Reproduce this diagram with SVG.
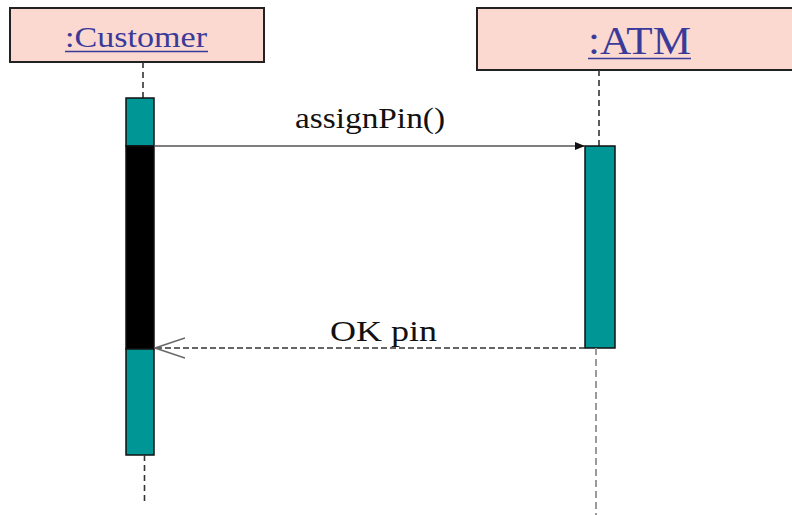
<svg xmlns="http://www.w3.org/2000/svg" width="792" height="515" viewBox="0 0 792 515">
  <style>
    .obj { fill: #fbd9d0; stroke: #222; stroke-width: 2; }
    .objname { font-family: "Liberation Serif", "Times New Roman", serif; fill: #3a3a9a; }
    .uline { stroke: #3a3a9a; stroke-width: 1.5; }
    .life { stroke: #333; stroke-width: 1.6; stroke-dasharray: 6 4; fill: none; }
    .life-lo { stroke: #9a9a9a; stroke-width: 2; stroke-dasharray: 7 4; fill: none; }
    .act { fill: #009696; stroke: #111; stroke-width: 1.5; }
    .busy { fill: #000; stroke: #111; stroke-width: 1.5; }
    .msg { font-family: "Liberation Serif", "Times New Roman", serif; font-size: 30px; fill: #111; }
    .call { stroke: #555; stroke-width: 1.5; fill: none; }
    .reply { stroke: #333; stroke-width: 1.5; stroke-dasharray: 6 3; fill: none; }
  </style>
  <defs>
    <marker id="solidHead" viewBox="0 0 10 8" refX="10" refY="4" markerWidth="10" markerHeight="8" markerUnits="userSpaceOnUse" orient="auto">
      <path d="M0,0 L10,4 L0,8 Z" fill="#111"/>
    </marker>
    <marker id="openHead" viewBox="0 0 31 22" refX="30" refY="11" markerWidth="31" markerHeight="22" markerUnits="userSpaceOnUse" orient="auto">
      <path d="M0,1 L30,11 L0,21" fill="none" stroke="#666" stroke-width="1.5"/>
    </marker>
  </defs>

  <!-- Customer object -->
  <g id="customer">
    <rect class="obj" x="10" y="8" width="254" height="54"/>
    <text class="objname" x="65" y="47" font-size="30" textLength="142" lengthAdjust="spacingAndGlyphs">:Customer</text>
    <line class="uline" x1="65" y1="51.5" x2="208" y2="51.5"/>
    <line class="life" x1="143" y1="62" x2="143" y2="98"/>
    <rect class="act" x="126" y="98" width="28" height="48"/>
    <rect class="busy" x="126" y="146" width="28" height="203"/>
    <rect class="act" x="126" y="349" width="28" height="106"/>
    <line class="life" x1="144.5" y1="455" x2="144.5" y2="505"/>
  </g>

  <!-- ATM object -->
  <g id="atm">
    <rect class="obj" x="477" y="8" width="320" height="62"/>
    <text class="objname" x="588" y="54" font-size="41" textLength="103" lengthAdjust="spacingAndGlyphs">:ATM</text>
    <line class="uline" x1="588" y1="58.5" x2="691" y2="58.5"/>
    <line class="life" x1="599" y1="70" x2="599" y2="146"/>
    <rect class="act" x="585" y="146" width="30" height="202"/>
    <line class="life-lo" x1="596" y1="348" x2="596" y2="515"/>
  </g>

  <!-- Messages -->
  <g id="connectors">
    <line class="call" x1="154" y1="146" x2="585" y2="146" marker-end="url(#solidHead)"/>
    <text class="msg" x="295" y="128" textLength="150" lengthAdjust="spacingAndGlyphs">assignPin()</text>
    <line class="reply" x1="585" y1="348" x2="155" y2="348" marker-end="url(#openHead)"/>
    <text class="msg" x="330" y="341" textLength="107" lengthAdjust="spacingAndGlyphs">OK pin</text>
  </g>
</svg>
